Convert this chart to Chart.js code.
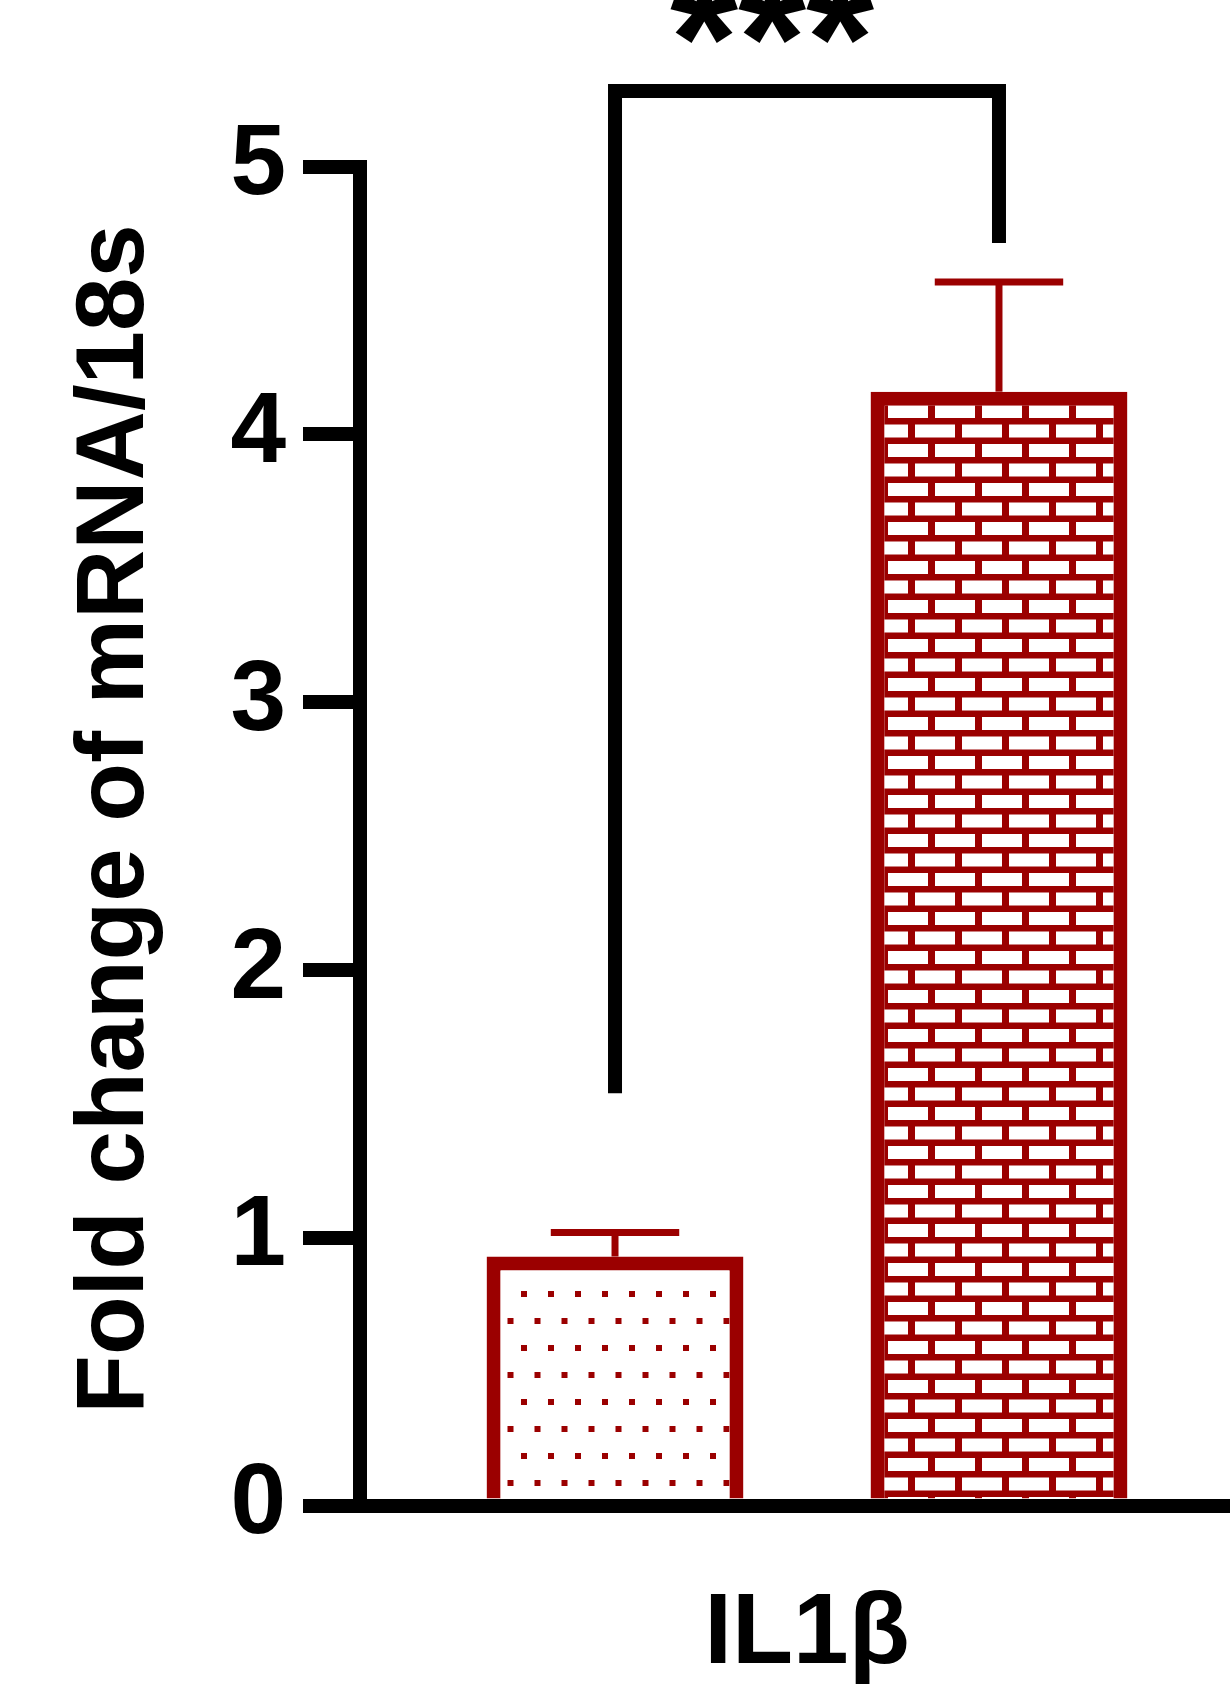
<!DOCTYPE html>
<html>
<head>
<meta charset="utf-8">
<script src="https://cdn.jsdelivr.net/npm/chart.js@4.4.1/dist/chart.umd.min.js"></script>
<style>
html,body{margin:0;padding:0;background:#fff;overflow:hidden;width:1230px;height:1688px}
#wrap{position:absolute;left:0;top:0;width:1254px;height:1688px}
</style>
</head>
<body>
<div id="wrap"><canvas id="c"></canvas></div>
<script>
// ---- data ----
const categories = ['IL1β'];
const groups = ['Control', 'Treated'];
const means = [0.93, 4.16];
const sems = [0.09, 0.41];
const yTicks = [0, 1, 2, 3, 4, 5];
const yTitle = 'Fold change of mRNA/18s';
const sigLabel = '***';
const bracketLegBottoms = [1.54, 4.715];
const bracketTop = 5.283;

// ---- styles ----
const RED = '#9b0000';
const FAMILY = '"Liberation Sans", Arial, Helvetica, sans-serif';

function makeDots() {
  const t = document.createElement('canvas');
  t.width = 27; t.height = 54;
  const g = t.getContext('2d');
  g.fillStyle = '#fff'; g.fillRect(0, 0, 27, 54);
  g.fillStyle = RED;
  g.fillRect(0, 0, 6, 6);
  g.fillRect(13.5, 27, 6, 6);
  const p = g.createPattern(t, 'repeat');
  p.setTransform(new DOMMatrix().translate(8, 49));
  return p;
}
function makeBricks() {
  const t = document.createElement('canvas');
  t.width = 47; t.height = 39;
  const g = t.getContext('2d');
  g.fillStyle = RED; g.fillRect(0, 0, 47, 39);
  g.fillStyle = '#fff';
  g.fillRect(7, 0, 40, 13);
  g.fillRect(34, 19.5, 13, 13);
  g.fillRect(0, 19.5, 27, 13);
  const p = g.createPattern(t, 'repeat');
  p.setTransform(new DOMMatrix().translate(35, 15));
  return p;
}
const fills = [makeDots(), makeBricks()];

const overlay = {
  id: 'overlay',
  afterDatasetsDraw(chart) {
    const ctx = chart.ctx, ys = chart.scales.y;
    chart.data.datasets.forEach((ds, i) => {
      const bar = chart.getDatasetMeta(i).data[0];
      const top = ys.getPixelForValue(means[i] + sems[i]);
      ctx.save();
      ctx.strokeStyle = RED;
      ctx.lineCap = 'butt';
      ctx.lineWidth = 7;
      ctx.beginPath(); ctx.moveTo(bar.x, bar.y); ctx.lineTo(bar.x, top); ctx.stroke();
      const hw = bar.width * 0.25;
      ctx.beginPath(); ctx.moveTo(bar.x - hw, top); ctx.lineTo(bar.x + hw, top); ctx.stroke();
      ctx.restore();
    });
  },
  afterDraw(chart) {
    const ctx = chart.ctx, ys = chart.scales.y;
    const b0 = chart.getDatasetMeta(0).data[0], b1 = chart.getDatasetMeta(1).data[0];
    const yt = ys.getPixelForValue(bracketTop);
    ctx.save();
    ctx.strokeStyle = '#000';
    ctx.lineWidth = 14;
    ctx.lineJoin = 'miter';
    ctx.lineCap = 'butt';
    ctx.beginPath();
    ctx.moveTo(b0.x, ys.getPixelForValue(bracketLegBottoms[0]));
    ctx.lineTo(b0.x, yt);
    ctx.lineTo(b1.x, yt);
    ctx.lineTo(b1.x, ys.getPixelForValue(bracketLegBottoms[1]));
    ctx.stroke();
    // significance label
    ctx.fillStyle = '#000';
    ctx.font = 'bold 175px ' + FAMILY;
    ctx.textAlign = 'center';
    ctx.textBaseline = 'alphabetic';
    ctx.fillText(sigLabel, b0.x + (b1.x - b0.x) * 0.409, yt + 7);
    // y axis title
    ctx.font = 'bold 96px ' + FAMILY;
    ctx.translate(143, 819);
    ctx.rotate(-Math.PI / 2);
    ctx.fillText(yTitle, 0, 0);
    ctx.restore();
  }
};

new Chart(document.getElementById('c'), {
  type: 'bar',
  data: {
    labels: categories,
    datasets: groups.map((g, i) => ({
      label: g,
      data: [means[i]],
      backgroundColor: fills[i],
      borderColor: RED,
      borderWidth: 14,
      borderSkipped: 'start',
      categoryPercentage: 0.859,
      barPercentage: 0.669
    }))
  },
  options: {
    responsive: true,
    maintainAspectRatio: false,
    animation: false,
    devicePixelRatio: 1,
    layout: { padding: { left: 0, right: 0, top: 166.75, bottom: 0 } },
    plugins: { legend: { display: false }, tooltip: { enabled: false } },
    scales: {
      x: {
        z: 1,
        grid: { display: true, drawOnChartArea: false, drawTicks: false },
        border: { display: true, width: 14, color: '#000' },
        ticks: { color: '#000', font: { family: FAMILY, size: 100, weight: 'bold' }, padding: 70 },
        afterFit(s) { s.height = 182.5; }
      },
      y: {
        z: 1,
        min: 0,
        max: 5,
        afterBuildTicks(s) { s.ticks = yTicks.map(v => ({ value: v })); },
        grid: { drawOnChartArea: false, drawTicks: true, tickLength: 57, tickWidth: 14, tickColor: '#000', lineWidth: 14, color: '#000' },
        border: { display: true, width: 14, color: '#000' },
        ticks: { color: '#000', font: { family: FAMILY, size: 100, weight: 'bold' }, padding: 17 },
        afterFit(s) { s.width = 360; }
      }
    }
  },
  plugins: [overlay]
});
</script>
</body>
</html>
